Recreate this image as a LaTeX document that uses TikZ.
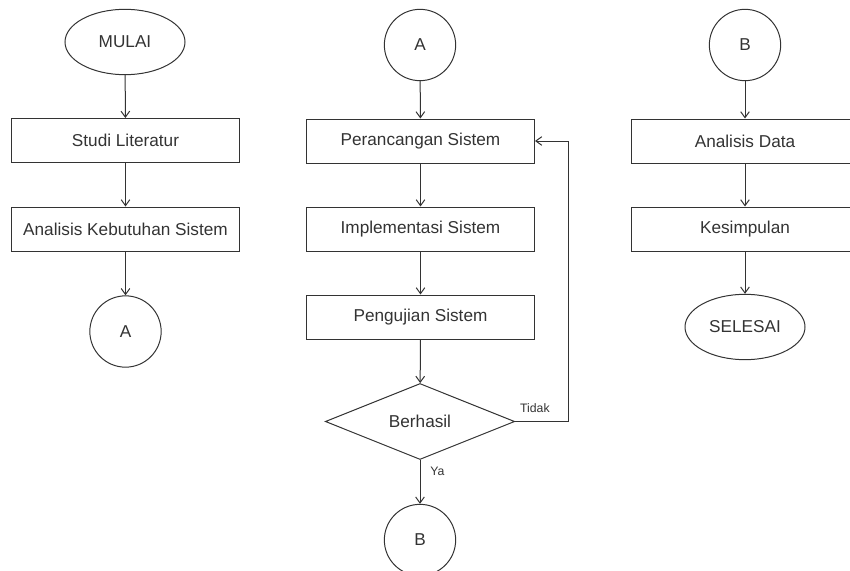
\documentclass[tikz,border=0pt]{standalone}
\usepackage{fontspec}
\setmainfont{Liberation Sans}
\usetikzlibrary{arrows.meta,shapes.geometric}
\definecolor{garis}{HTML}{333333}

\begin{document}
\begin{tikzpicture}[x=0.75pt, y=-0.75pt, font=\fontsize{12.9}{15}\selectfont,
  every node/.style={text=garis},
  proses/.style={draw=garis, line width=0.75pt, minimum width=171pt, minimum height=33pt, inner sep=0pt},
  terminal/.style={ellipse, draw=garis, line width=0.75pt, minimum width=90pt, minimum height=49pt, inner sep=0pt},
  konektor/.style={circle, draw=garis, line width=0.75pt, minimum size=53.5pt, inner sep=0pt},
  keputusan/.style={diamond, draw=garis, line width=0.75pt, minimum width=142pt, minimum height=57pt, inner sep=0pt},
  panah/.style={-{Straight Barb[length=4.5pt,width=6.5pt]}, line width=0.75pt, draw=garis},
  ket/.style={font=\fontsize{9.2}{11}\selectfont}]
\useasboundingbox (0,0) rectangle (850,571);
% kolom kiri: mulai sampai konektor A
\node[terminal] (mulai) at (125,42) {MULAI};
\node[proses] (studi) at (125.5,140.5) {Studi Literatur};
\node[proses] (butuh) at (125.5,229) {Analisis Kebutuhan Sistem};
\node[konektor] (a1) at (125.5,331.5) {A};
\foreach \dari/\ke in {mulai/studi, studi/butuh, butuh/a1}
  \draw[panah] (\dari) -- (\ke);
% kolom tengah: perancangan, implementasi, pengujian
\node[konektor] (a2) at (420,45) {A};
\node[proses] (rancang) at (420.5,141) {Perancangan Sistem};
\node[proses] (implem) at (420.5,229) {Implementasi Sistem};
\node[proses] (uji) at (420.5,317) {Pengujian Sistem};
\node[keputusan] (cek) at (420,421.5) {Berhasil};
\node[konektor] (b1) at (420,540) {B};
\foreach \dari/\ke in {a2/rancang, rancang/implem, implem/uji, uji/cek}
  \draw[panah] (\dari) -- (\ke);
\draw[panah] (cek) -- node[ket, near start, right, xshift=4pt]{Ya} (b1);
% jalur balik kalau gagal
\coordinate (balik) at (568,421.5);
\draw[panah] (cek.east) -- node[ket, pos=0, above right, yshift=3pt]{Tidak} (balik) |- (rancang.east);
% kolom kanan: analisis data sampai selesai
\node[konektor] (b2) at (745,45) {B};
\node[proses] (data) at (745,141) {Analisis Data};
\node[proses] (simpul) at (745,229) {Kesimpulan};
\node[terminal] (selesai) at (745,327) {SELESAI};
\foreach \dari/\ke in {b2/data, data/simpul, simpul/selesai}
  \draw[panah] (\dari) -- (\ke);
\end{tikzpicture}
\end{document}
